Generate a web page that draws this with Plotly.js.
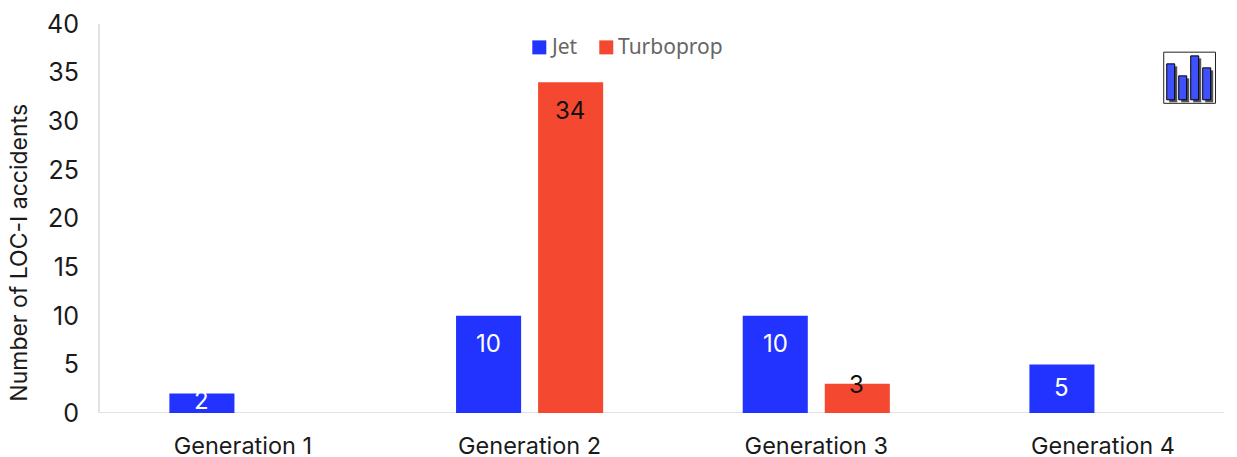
<!DOCTYPE html>
<html><head><meta charset="utf-8">
<script src="https://cdn.plot.ly/plotly-3.0.1.min.js"></script>
<style>html,body{margin:0;padding:0;background:#fff;overflow:hidden}</style>
</head><body><div id="chart" style="width:1237px;height:457px"></div>
<script>
const categories = ["Generation 1","Generation 2","Generation 3","Generation 4"];
const seriesNames = ["Jet","Turboprop"];
const jetValues = [2,10,10,5];
const turbopropValues = [null,34,3,null];
const yTicks = [0,5,10,15,20,25,30,35,40];
const yTitle = "Number of LOC-I accidents";
const colors = ['#2233ff','#f44831'];
const W = 1237, H = 457;
const L = 99.5, R = 1224, T = 23.6, B = 413;
const step = 286.8, barOffset = 41, rangeStart = -0.4986;
const font = "Inter, Roboto, 'Liberation Sans', sans-serif";
const legendFont = "'Noto Sans','Open Sans',sans-serif";
const px = x => (x - L) / (R - L);
const py = y => (B - y) / (B - T);
const labelShift = {jet:[-7,-28,-28,-23], turbo:[0,-28,-1,0]};

const annotations = [];
categories.forEach((c,i)=>{
  if (jetValues[i] != null) annotations.push({x:c,y:jetValues[i],xref:'x',yref:'y',text:String(jetValues[i]),showarrow:false,
    xshift:-barOffset,yshift:labelShift.jet[i],font:{family:font,size:24,color:'#ffffff'}});
  if (turbopropValues[i] != null) annotations.push({x:c,y:turbopropValues[i],xref:'x',yref:'y',text:String(turbopropValues[i]),showarrow:false,
    xshift:barOffset-1,yshift:labelShift.turbo[i],font:{family:font,size:24,color:'#111111'}});
});
annotations.push({xref:'paper',yref:'paper',x:px(19),y:py(253),xanchor:'center',yanchor:'middle',textangle:-90,showarrow:false,
  text:yTitle,font:{family:font,size:23,color:'#1a1a1a'}});

const shapes = [];
const rect = (x0,y0,x1,y1,fill,line,w) => shapes.push({type:'rect',xref:'paper',yref:'paper',layer:'above',
  x0:px(x0),x1:px(x1),y0:py(y0),y1:py(y1),fillcolor:fill,line:{color:line,width:w}});
rect(1163.7,51.8,1215.5,103,'#ffffff','#222222',1);
[[1166.7,63.5],[1178.7,75.5],[1190.7,55.5],[1202.7,67.5]].forEach(b=>{
  rect(b[0]+2.5,b[1]+2.5,b[0]+10.5,102,'#555555','rgba(0,0,0,0)',0);
  rect(b[0],b[1],b[0]+8,99.5,'#3f51ff','#000000',1);
});
// legend
[[532,550],[599,618]].forEach((p,i)=>{
  rect(p[0],40,p[0]+14,54,colors[i],'rgba(0,0,0,0)',0);
  annotations.push({xref:'paper',yref:'paper',x:px(p[1]),y:py(45.5),xanchor:'left',yanchor:'middle',showarrow:false,xshift:-2,
    text:seriesNames[i],font:{family:legendFont,size:21,color:'#666666'}});
});

Plotly.newPlot('chart',[
  {type:'bar',name:seriesNames[0],x:categories,y:jetValues,marker:{color:colors[0]},hoverinfo:'x+y'},
  {type:'bar',name:seriesNames[1],x:categories,y:turbopropValues,marker:{color:colors[1]},hoverinfo:'x+y'}
],{
  width:W,height:H,autosize:false,
  paper_bgcolor:'#ffffff',plot_bgcolor:'#ffffff',
  margin:{l:L,r:W-R,t:T,b:H-B,pad:0},
  barmode:'group',bargap:0.4276,bargroupgap:0.207,
  showlegend:false,
  xaxis:{type:'category',categoryorder:'array',categoryarray:categories,range:[rangeStart,(R-L)/step+rangeStart],
    showgrid:false,zeroline:false,showline:false,ticks:'',
    tickfont:{family:font,size:23.5,color:'#1a1a1a'},automargin:false,ticklabelstandoff:16},
  yaxis:{range:[0,40],tickmode:'array',tickvals:yTicks,ticktext:yTicks.map(String),
    showgrid:false,zeroline:false,showline:true,linecolor:'#e2e2e2',linewidth:2,ticks:'',
    tickfont:{family:font,size:25,color:'#1a1a1a'},automargin:false,ticklabelstandoff:14},
  annotations:annotations,
  shapes:[{type:'line',xref:'paper',yref:'y',x0:0,x1:1,y0:0,y1:0,layer:'below',line:{color:'#e2e2e2',width:2}}].concat(shapes)
},{displayModeBar:false,responsive:false});
</script></body></html>
